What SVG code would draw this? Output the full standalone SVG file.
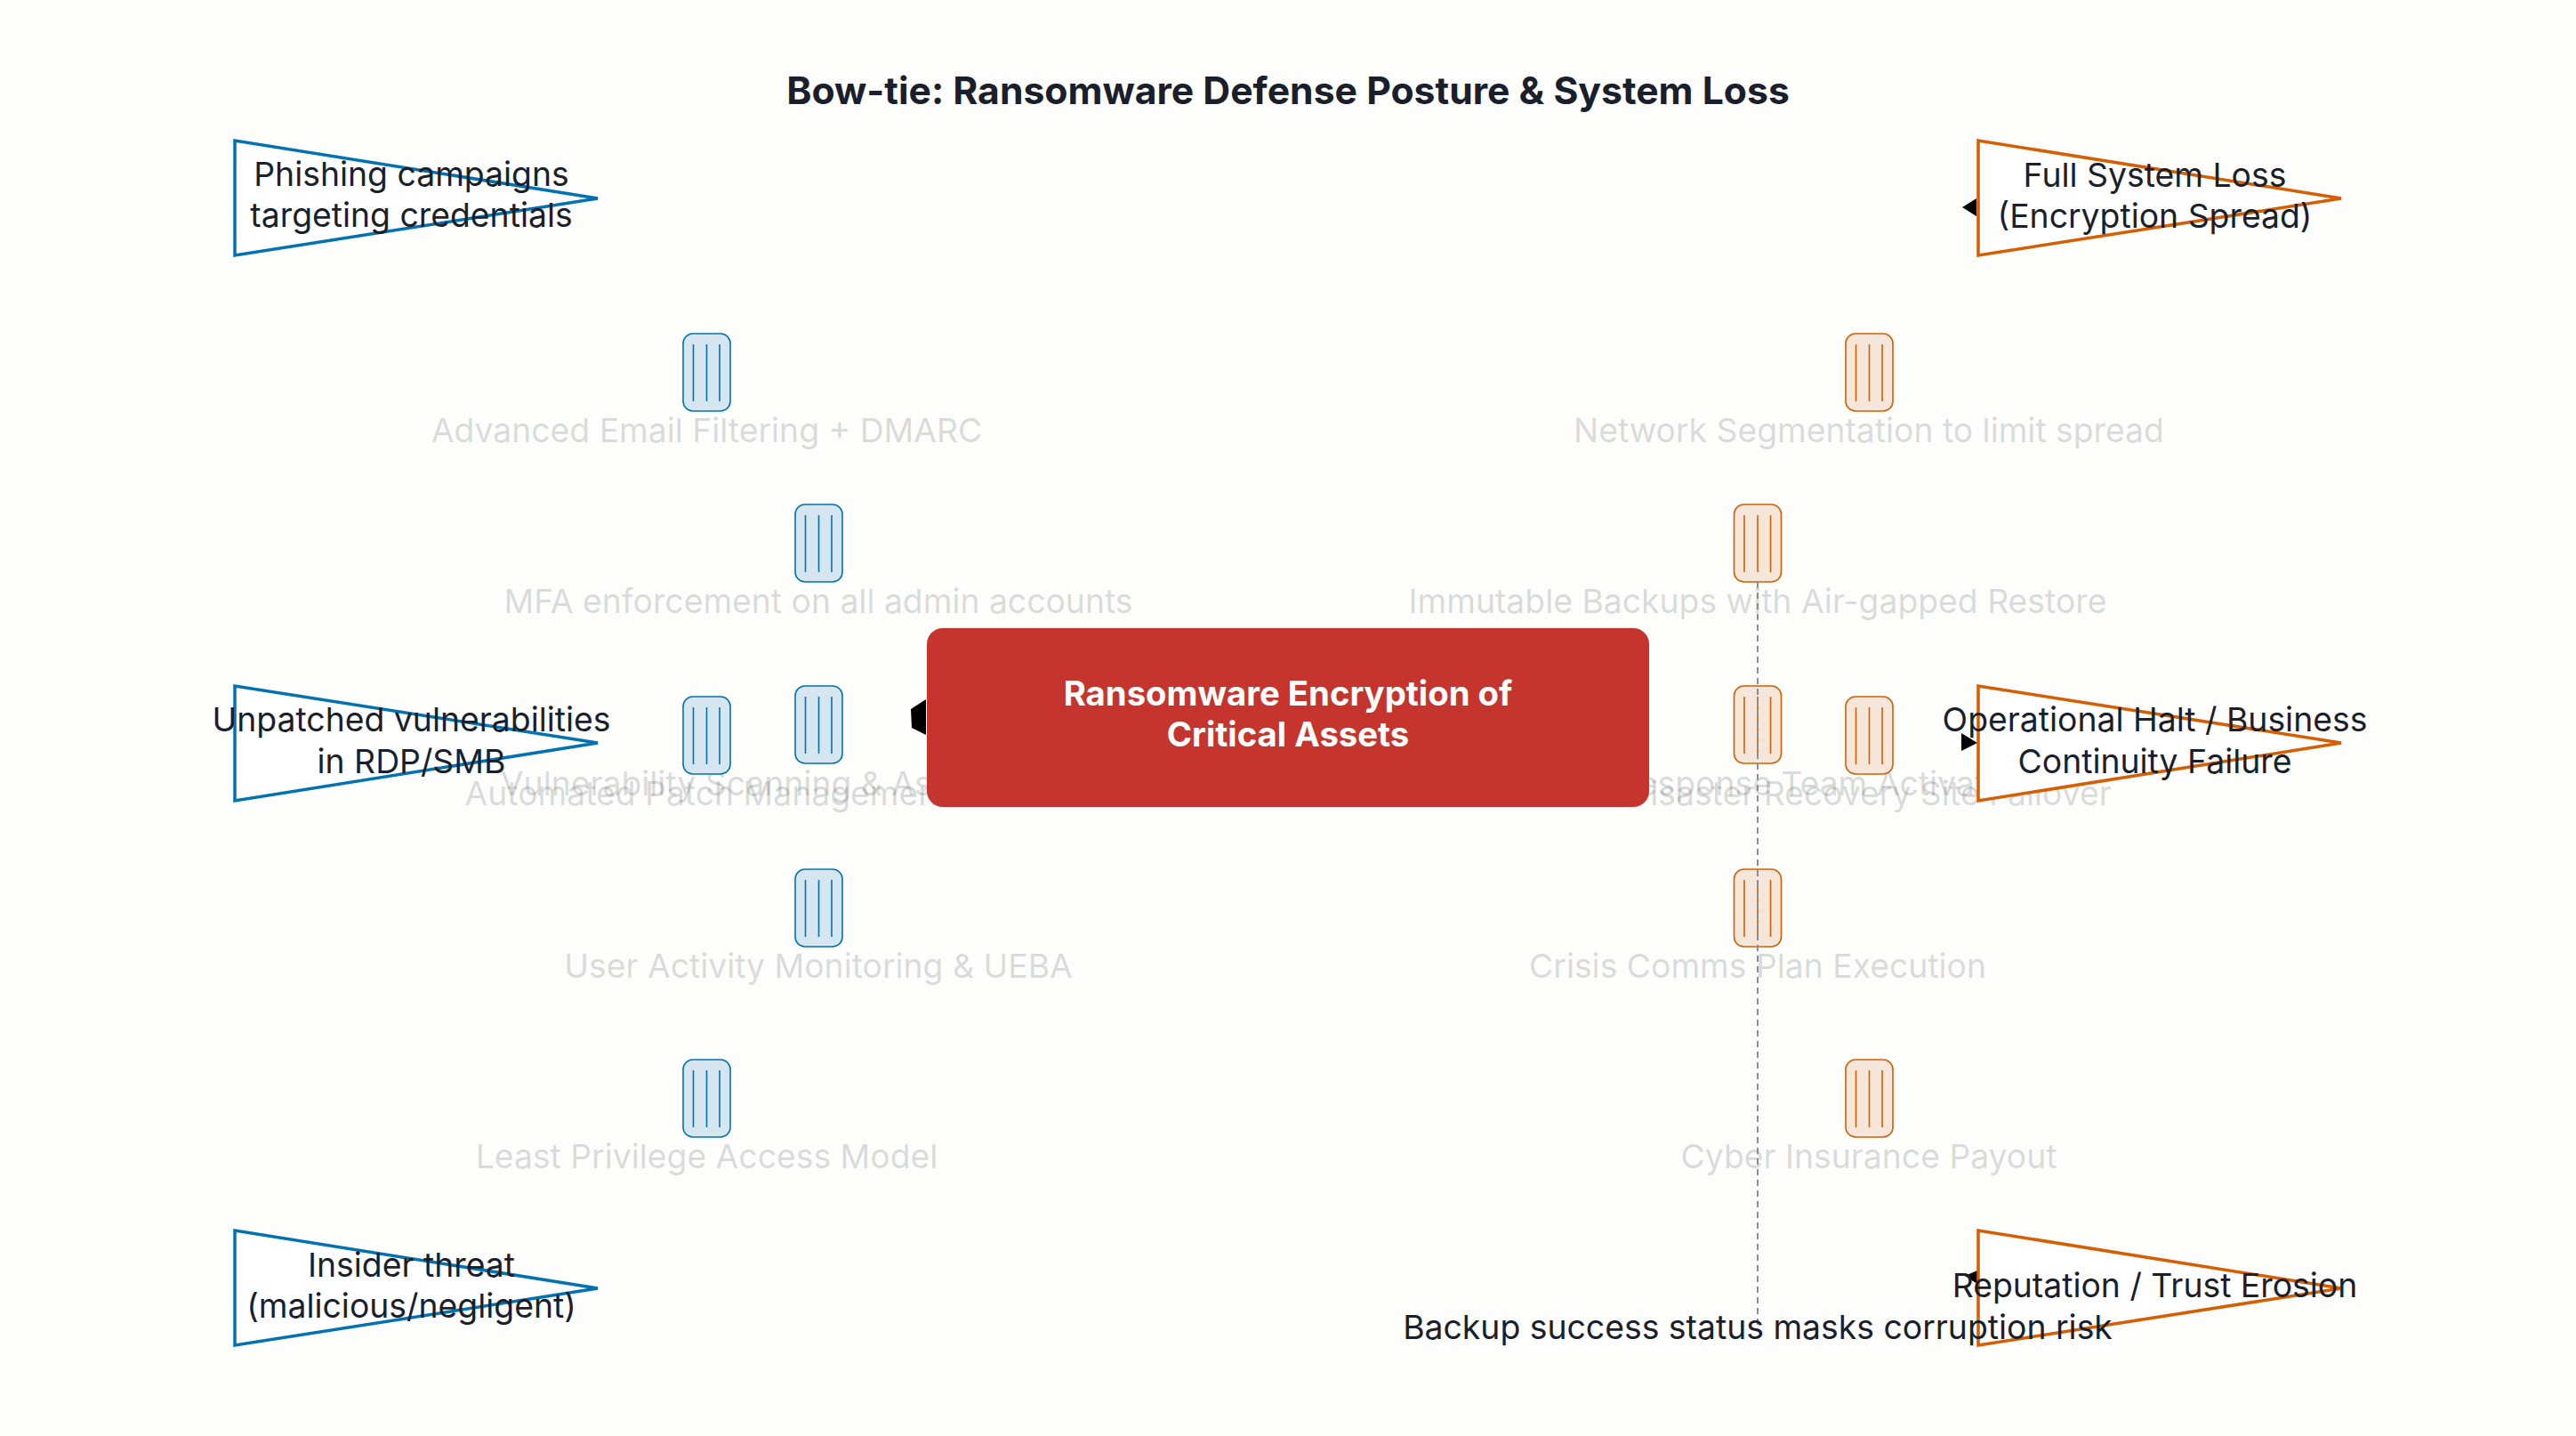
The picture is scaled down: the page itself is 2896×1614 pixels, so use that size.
<svg xmlns="http://www.w3.org/2000/svg" width="2896" height="1614" viewBox="0 0 2896 1614">
<style>
text{font-family:Inter,"Liberation Sans",sans-serif;text-anchor:middle}
.t{font-size:37.350px;fill:#1a1f2b}
.l{font-size:37.300px;fill:#1a1f2b;fill-opacity:.17}
.title{font-size:42.700px;font-weight:700;fill:#1a1f2b}
.c{font-size:38.300px;font-weight:700;fill:#fff}
.tb{fill:#fff;stroke:#0072b2;stroke-width:3.500}
.to{fill:#fff;stroke:#d55e00;stroke-width:3.500}
.bb{fill:#d6e6f0;stroke:#0072b2;stroke-width:1.600}
.bo{fill:#f6e5d9;stroke:#d55e00;stroke-width:1.600}
</style>
<defs>
<g id="bar"><rect width="53" height="87" rx="11"/><line x1="11.500" y1="12" x2="11.500" y2="76"/><line x1="26.500" y1="12" x2="26.500" y2="76"/><line x1="41" y1="12" x2="41" y2="76"/></g>
</defs>
<rect width="2896" height="1614" fill="#fdfdfb"/>
<text class="title" x="1448" y="117">Bow-tie: Ransomware Defense Posture &amp; System Loss</text>
<g id="labels">
<text class="l" x="794.500" y="497">Advanced Email Filtering + DMARC</text>
<text class="l" x="920" y="689">MFA enforcement on all admin accounts</text>
<text class="l" x="920" y="894">Vulnerability Scanning &amp; Asset Inventory</text>
<text class="l" x="794.500" y="905">Automated Patch Management</text>
<text class="l" x="920" y="1099">User Activity Monitoring &amp; UEBA</text>
<text class="l" x="794.500" y="1313">Least Privilege Access Model</text>
<text class="l" x="2101" y="497">Network Segmentation to limit spread</text>
<text class="l" x="1976" y="689">Immutable Backups with Air-gapped Restore</text>
<text class="l" x="1976" y="894">Incident Response Team Activation</text>
<text class="l" x="2101" y="905">Disaster Recovery Site Failover</text>
<text class="l" x="1976" y="1099">Crisis Comms Plan Execution</text>
<text class="l" x="2101" y="1313">Cyber Insurance Payout</text>
</g>
<g id="barriers-left" class="bb">
<use id="b1" href="#bar" x="768" y="375"/>
<use id="b2" href="#bar" x="894" y="567"/>
<use id="b3" href="#bar" x="894" y="771"/>
<use id="b4" href="#bar" x="768" y="783"/>
<use id="b5" href="#bar" x="894" y="977"/>
<use id="b6" href="#bar" x="768" y="1191"/>
</g>
<g id="barriers-right" class="bo">
<use id="b7" href="#bar" x="2075" y="375"/>
<use id="b8" href="#bar" x="1949.500" y="567"/>
<use id="b9" href="#bar" x="1949.500" y="771"/>
<use id="b10" href="#bar" x="2075" y="783"/>
<use id="b11" href="#bar" x="1949.500" y="977"/>
<use id="b12" href="#bar" x="2075" y="1191"/>
</g>
<g id="connectors">
<line x1="1976" y1="654" x2="1976" y2="1490" stroke="#8a8d94" stroke-width="2" stroke-dasharray="7 5"/>
<polygon points="1041,786 1024,797 1025,818 1041,826"/>
<polygon points="2222,223 2206,233 2222,243"/>
<polygon points="2205,824 2223,835 2205,844"/>
<polygon points="2223,1428 2209,1434 2223,1443"/>
</g>
<g id="threat1"><polygon class="tb" points="264,158 264,287 672,223"/><text class="t" x="462.500" y="209">Phishing campaigns</text><text class="t" x="462.500" y="255">targeting credentials</text></g>
<g id="threat2"><polygon class="tb" points="264,771 264,900 672,835"/><text class="t" x="462.500" y="821.500">Unpatched vulnerabilities</text><text class="t" x="462.500" y="868.500">in RDP/SMB</text></g>
<g id="threat3"><polygon class="tb" points="264,1383 264,1512 672,1448"/><text class="t" x="462.500" y="1435">Insider threat</text><text class="t" x="462.500" y="1481">(malicious/negligent)</text></g>
<g id="top-event"><rect x="1042" y="706" width="812" height="201" rx="18" fill="#c5352d"/><text class="c" x="1448" y="793">Ransomware Encryption of</text><text class="c" x="1448" y="839">Critical Assets</text></g>
<g id="cons1"><polygon class="to" points="2224,158 2224,287 2632,223"/><text class="t" x="2422.500" y="209.500">Full System Loss</text><text class="t" x="2422.500" y="255.500">(Encryption Spread)</text></g>
<g id="cons2"><polygon class="to" points="2224,771 2224,900 2632,835"/><text class="t" x="2422.500" y="821.500">Operational Halt / Business</text><text class="t" x="2422.500" y="868.500">Continuity Failure</text></g>
<g id="cons3"><polygon class="to" points="2224,1383 2224,1512 2632,1448"/><text class="t" x="2422.500" y="1458">Reputation / Trust Erosion</text></g>
<g id="note"><text class="t" x="1976" y="1505">Backup success status masks corruption risk</text></g>
</svg>
